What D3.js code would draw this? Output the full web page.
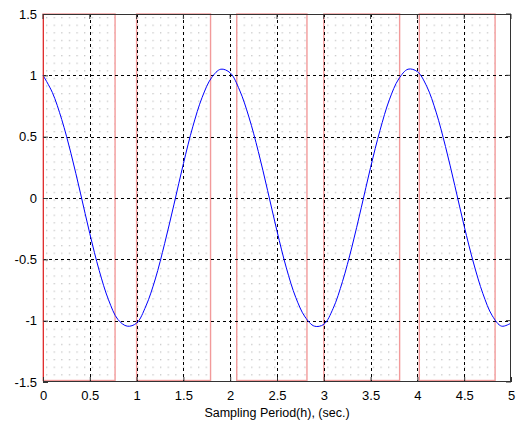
<!DOCTYPE html>
<html><head><meta charset="utf-8">
<script src="https://cdn.jsdelivr.net/npm/d3@7"></script>
<style>body{margin:0;background:#fff}svg{display:block}text{font-family:Arial,"Liberation Sans",sans-serif}</style>
</head><body><svg id="c" width="521" height="423"></svg>
<script>
const xTicks = [0,0.5,1,1.5,2,2.5,3,3.5,4,4.5,5];
const xTickLabels = ["0","0.5","1","1.5","2","2.5","3","3.5","4","4.5","5"];
const yTicks = [-1.5,-1,-0.5,0,0.5,1,1.5];
const yTickLabels = ["-1.5","-1","-0.5","0","0.5","1","1.5"];
const xLabel = "Sampling Period(h), (sec.)";
// shaded intervals [start, end]
const intervalStart = [0, 1.0, 2.07, 3.0, 4.02];
const intervalEnd   = [0.77, 1.79, 2.82, 3.81, 4.83];
// blue curve samples
const curveX = [0,0.1,0.2,0.3,0.4,0.5,0.6,0.7,0.8,0.9,1.0,1.1,1.2,1.3,1.4,1.5,1.6,1.7,1.8,1.9,2.0,2.1,2.2,2.3,2.4,2.5,2.6,2.7,2.8,2.9,3.0,3.1,3.2,3.3,3.4,3.5,3.6,3.7,3.8,3.9,4.0,4.1,4.2,4.3,4.4,4.5,4.6,4.7,4.8,4.9,5.0];
const curveY = [1.0,0.86,0.64,0.36,0.04,-0.29,-0.59,-0.83,-0.99,-1.045,-1.02,-0.88,-0.66,-0.37,-0.05,0.28,0.58,0.82,0.98,1.05,1.02,0.88,0.66,0.38,0.06,-0.27,-0.57,-0.81,-0.97,-1.045,-1.03,-0.90,-0.68,-0.40,-0.08,0.25,0.55,0.80,0.97,1.05,1.03,0.91,0.70,0.42,0.10,-0.23,-0.53,-0.78,-0.96,-1.045,-1.02];

const L=43,R=511,T=14,B=382;
const svg=d3.select("#c");
const x=d3.scaleLinear().domain([0,5]).range([L,R]);
const y=d3.scaleLinear().domain([-1.5,1.5]).range([B,T]);

const defs=svg.append("defs");
const pat=defs.append("pattern").attr("id","dots").attr("patternUnits","userSpaceOnUse")
  .attr("width",7.6).attr("height",7.6).attr("x",L+3).attr("y",T+3);
pat.append("rect").attr("x",0).attr("y",0).attr("width",1.3).attr("height",1.3).attr("fill","#c6c6c6");

svg.append("rect").attr("x",L).attr("y",T).attr("width",R-L).attr("height",B-T).attr("fill","#fff");

// shaded intervals
svg.append("g").selectAll("rect").data(intervalStart.map((s,i)=>[s,intervalEnd[i]])).join("rect")
  .attr("x",d=>x(d[0])).attr("y",y(1.5)).attr("width",d=>x(d[1])-x(d[0])).attr("height",y(-1.5)-y(1.5)-1.5)
  .attr("fill","url(#dots)").attr("stroke","#f29a9a").attr("stroke-width",1.4);

// grid
const g=svg.append("g").attr("stroke","#000").attr("stroke-width",1).attr("stroke-dasharray","3,3");
g.selectAll("line.v").data(xTicks.slice(1,-1)).join("line").attr("class","v")
  .attr("x1",d=>Math.round(x(d))+0.5).attr("x2",d=>Math.round(x(d))+0.5).attr("y1",T).attr("y2",B);
g.selectAll("line.h").data(yTicks.slice(1,-1)).join("line").attr("class","h")
  .attr("y1",d=>Math.round(y(d))+0.5).attr("y2",d=>Math.round(y(d))+0.5).attr("x1",L).attr("x2",R);

// curve
const line=d3.line().x((d,i)=>x(curveX[i])).y(d=>y(d)).curve(d3.curveCatmullRom);
svg.append("path").datum(curveY).attr("d",line).attr("fill","none").attr("stroke","#0000ff").attr("stroke-width",1);

// frame
svg.append("rect").attr("x",L+0.5).attr("y",T+0.5).attr("width",R-L-1).attr("height",B-T-1)
  .attr("fill","none").attr("stroke","#333").attr("stroke-width",1);
svg.append("line").attr("x1",L+0.5).attr("x2",L+0.5).attr("y1",T).attr("y2",B).attr("stroke","#e03030");

// axes
const xa=svg.append("g").attr("transform",`translate(0,${B})`)
  .call(d3.axisBottom(x).tickValues(xTicks).tickFormat((d,i)=>xTickLabels[i]).tickSize(-5).tickPadding(9));
const ya=svg.append("g").attr("transform",`translate(${L},0)`)
  .call(d3.axisLeft(y).tickValues(yTicks).tickFormat((d,i)=>yTickLabels[i]).tickSize(-5).tickPadding(6));
[xa,ya].forEach(a=>{a.select(".domain").remove();a.selectAll("line").attr("stroke","#333");
  a.selectAll("text").attr("font-size",13).attr("fill","#000").attr("font-family","Arial, 'Liberation Sans', sans-serif");});
// right ticks and top ticks
svg.append("g").selectAll("line").data(yTicks).join("line").attr("x1",R).attr("x2",R-5)
  .attr("y1",d=>y(d)).attr("y2",d=>y(d)).attr("stroke","#333");
svg.append("g").selectAll("line").data(xTicks).join("line").attr("y1",T).attr("y2",T+5)
  .attr("x1",d=>x(d)).attr("x2",d=>x(d)).attr("stroke","#333");

svg.append("text").attr("x",(L+R)/2).attr("y",417).attr("text-anchor","middle").attr("font-size",12.5).text(xLabel);
</script></body></html>
